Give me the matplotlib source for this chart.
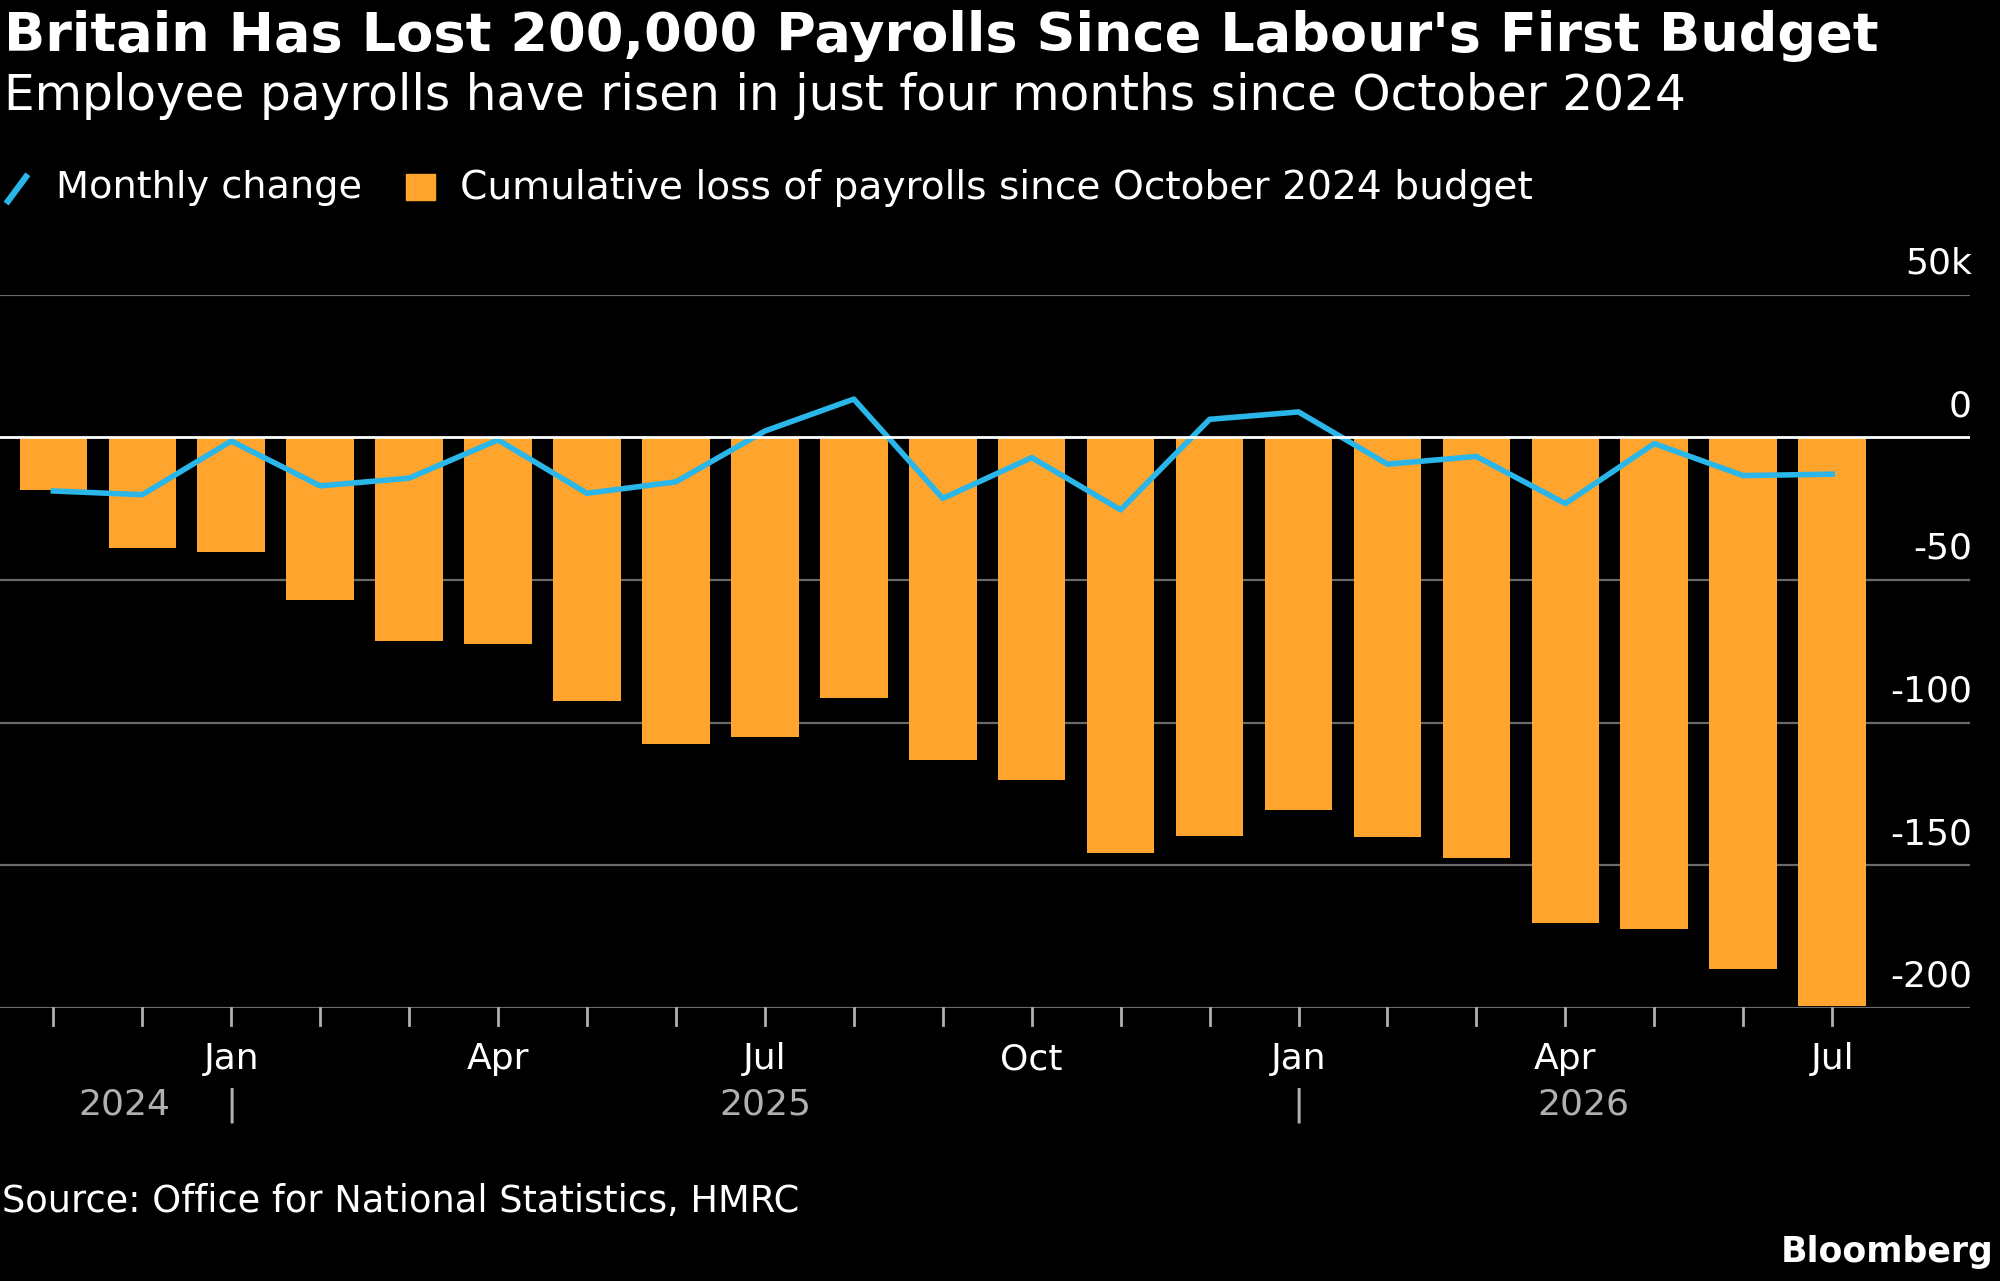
import matplotlib
matplotlib.use("Agg")
import matplotlib.pyplot as plt
import matplotlib.transforms as mtransforms
from matplotlib.patches import Rectangle
from matplotlib.lines import Line2D

months = ["Nov", "Dec", "Jan", "Feb", "Mar", "Apr", "May", "Jun", "Jul", "Aug", "Sep", "Oct",
          "Nov", "Dec", "Jan", "Feb", "Mar", "Apr", "May", "Jun", "Jul"]
cumulative = [-18.3, -38.8, -40.2, -57.1, -71.4, -72.3, -92.4, -107.6, -104.9, -91.5, -112.9,
              -120.1, -145.5, -139.7, -130.4, -140.2, -147.3, -170.1, -172.3, -186.2, -199.1]
monthly = [-18.8, -20.1, -1.3, -17.0, -14.3, -0.9, -19.6, -15.6, 2.2, 13.4, -21.4, -7.1,
           -25.4, 6.3, 8.9, -9.4, -6.7, -23.2, -2.2, -13.4, -12.9]
yticks = [50, 0, -50, -100, -150, -200]
ytick_labels = ["50k", "0", "-50", "-100", "-150", "-200"]
shown_months = {"Jan", "Apr", "Jul", "Oct"}

BG = "black"; ORANGE = "#FFA42C"; BLUE = "#2BB6EA"; GRID = "#6a6a6a"; GREY = "#b0b0b0"
plt.rcParams["font.family"] = ["DejaVu Sans"]

fig = plt.figure(figsize=(20, 12.81), dpi=100, facecolor=BG)
ax = fig.add_axes([0.0, 0.213, 0.985, 0.557], facecolor=BG)
x = list(range(len(months)))
ax.bar(x, cumulative, width=0.76, color=ORANGE, zorder=2)
ax.plot(x, monthly, color=BLUE, lw=4, zorder=3)
ax.set_xlim(-0.6, 21.55)
ax.set_ylim(-200, 50)
for v in yticks:
    ax.axhline(v, color="white" if v == 0 else GRID, lw=2 if v == 0 else 1.6,
               zorder=4 if v == 0 else 1)
for s in ax.spines.values():
    s.set_visible(False)
ax.set_xticks([]); ax.set_yticks([])

tr = mtransforms.blended_transform_factory(fig.transFigure, ax.transData)
for v, lab in zip(yticks, ytick_labels):
    ax.text(0.986, v + 5, lab, transform=tr, ha="right", va="bottom", color="white", fontsize=26)

trx = mtransforms.blended_transform_factory(ax.transData, fig.transFigure)
for i, m in enumerate(months):
    ax.add_line(Line2D([i, i], [0.213, 0.200], transform=trx, color=GREY, lw=2, clip_on=False))
    if m in shown_months:
        fig.text(i, 0.173, m, transform=trx, ha="center", va="center", color="white", fontsize=26)
for i in (2, 14):
    fig.text(i, 0.137, "|", transform=trx, ha="center", va="center", color=GREY, fontsize=26)
for pos, yr in ((0.8, "2024"), (8.0, "2025"), (17.2, "2026")):
    fig.text(pos, 0.138, yr, transform=trx, ha="center", va="center", color=GREY, fontsize=26)

fig.text(0.002, 0.972, "Britain Has Lost 200,000 Payrolls Since Labour's First Budget",
         color="white", fontsize=39, weight="bold", va="center")
fig.text(0.002, 0.925, "Employee payrolls have risen in just four months since October 2024",
         color="white", fontsize=35, va="center")
fig.add_artist(Line2D([0.004, 0.013], [0.843, 0.862], color=BLUE, lw=4.5))
fig.text(0.028, 0.853, "Monthly change", color="white", fontsize=27.5, va="center")
fig.add_artist(Rectangle((0.203, 0.844), 0.0145, 0.0205, color=ORANGE))
fig.text(0.230, 0.853, "Cumulative loss of payrolls since October 2024 budget",
         color="white", fontsize=28.2, va="center")
fig.text(0.001, 0.062, "Source: Office for National Statistics, HMRC", color="white",
         fontsize=26.5, va="center")
fig.text(0.997, 0.023, "Bloomberg", color="white", fontsize=25, weight="bold",
         ha="right", va="center")

fig.savefig("out.png", dpi=100, facecolor=BG)
